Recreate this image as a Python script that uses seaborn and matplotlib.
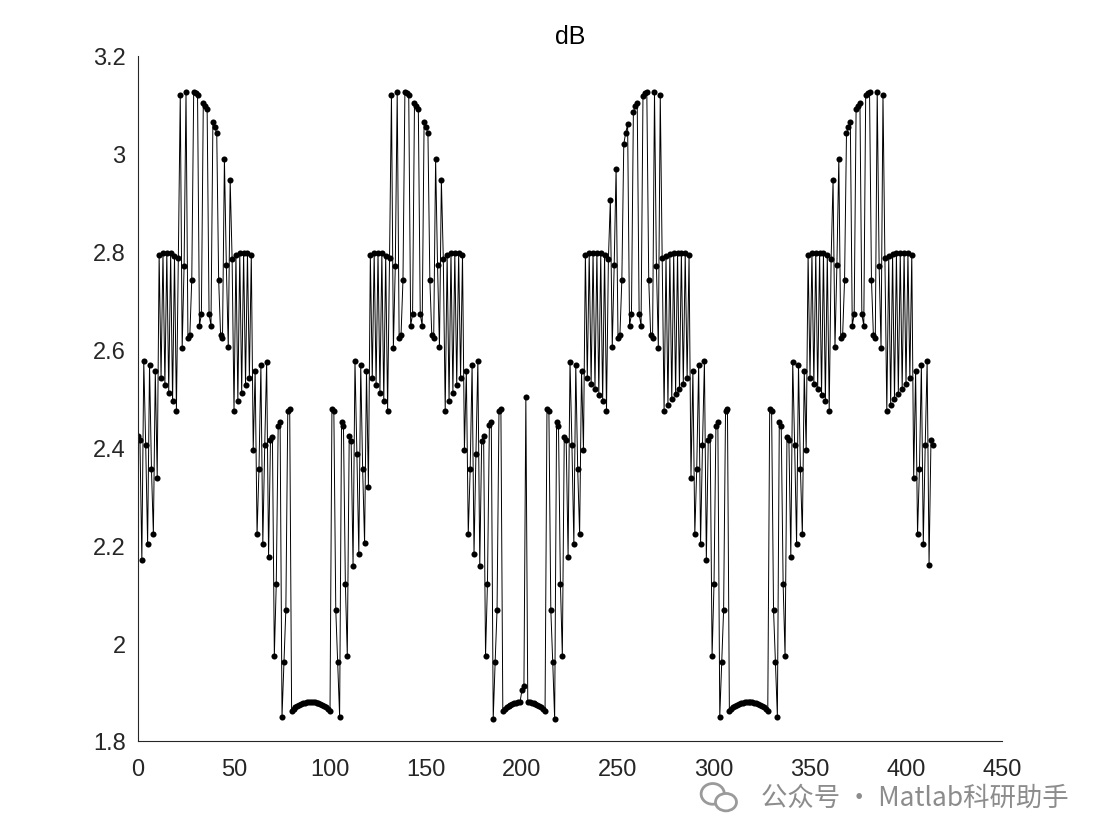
import numpy as np
import pandas as pd
import matplotlib
matplotlib.use("Agg")
import matplotlib.pyplot as plt
from matplotlib.patches import Ellipse
import seaborn as sns

# ---- data (index 0..N) ----
period1 = [2.423, 2.416, 2.170, 2.576, 2.405, 2.203, 2.569, 2.356, 2.223, 2.556,
           2.338, 2.794, 2.541, 2.797, 2.528, 2.798, 2.512, 2.797, 2.494, 2.791,
           2.475, 2.787, 3.121, 2.603, 2.771, 3.127, 2.624, 2.630, 2.743, 3.126,
           3.124, 3.120, 2.649, 2.672, 3.104, 3.098, 3.091, 2.672, 2.649, 3.066,
           3.054, 3.043, 2.743, 2.630, 2.624, 2.990, 2.772, 2.605, 2.946, 2.786,
           2.475, 2.794, 2.494, 2.797, 2.512, 2.798, 2.528, 2.797, 2.541, 2.794,
           2.395, 2.556, 2.222, 2.356, 2.568, 2.202, 2.405, 2.575, 2.177, 2.415,
           2.422, 1.974, 2.121, 2.444, 2.451, 1.850, 1.961, 2.068, 2.474, 2.479,
           1.862, 1.866, 1.869, 1.872, 1.874, 1.876, 1.877, 1.878, 1.879, 1.880,
           1.880, 1.880, 1.879, 1.878, 1.877, 1.876, 1.874, 1.872, 1.869, 1.866,
           1.862, 2.479, 2.474, 2.068, 1.961, 1.850, 2.451, 2.444, 2.121, 1.974]

period2 = [2.423, 2.414, 2.158, 2.576, 2.387, 2.182, 2.568, 2.355, 2.204, 2.557,
           2.319, 2.794, 2.541, 2.797, 2.528, 2.798, 2.512, 2.797, 2.494, 2.791,
           2.475, 2.787, 3.121, 2.603, 2.771, 3.127, 2.624, 2.630, 2.743, 3.126,
           3.124, 3.120, 2.649, 2.672, 3.104, 3.098, 3.091, 2.672, 2.649, 3.066,
           3.054, 3.043, 2.743, 2.630, 2.624, 2.990, 2.772, 2.605, 2.946, 2.786,
           2.475, 2.794, 2.494, 2.797, 2.512, 2.798, 2.528, 2.797, 2.541, 2.794,
           2.395, 2.556, 2.222, 2.355, 2.569, 2.182, 2.387, 2.576, 2.158, 2.414,
           2.423, 1.974, 2.121, 2.445, 2.451, 1.845, 1.961, 2.068, 2.474, 2.479,
           1.862, 1.866, 1.869, 1.872, 1.874, 1.876, 1.877, 1.878, 1.879, 1.880,
           1.905, 1.912, 2.502]

period3 = [1.880, 1.879, 1.878, 1.877, 1.876, 1.874, 1.872, 1.869, 1.866, 1.862,
           2.479, 2.474, 2.068, 1.961, 1.845, 2.451, 2.444, 2.121, 1.974,
           2.422, 2.415, 2.177, 2.575, 2.405, 2.202, 2.568, 2.356, 2.222, 2.556, 2.395,
           2.794, 2.541, 2.797, 2.530, 2.798, 2.520, 2.798, 2.508, 2.797, 2.494,
           2.794, 2.475, 2.786,
           2.905, 2.605, 2.772, 2.970, 2.624, 2.630, 2.743, 3.020, 3.043, 3.060,
           2.649, 2.672, 3.085, 3.098, 3.104, 2.672, 2.649, 3.118, 3.124, 3.126,
           2.743, 2.630, 2.624, 3.127, 2.771, 2.603, 3.121,
           2.787, 2.475, 2.791, 2.487, 2.795, 2.498, 2.797, 2.510, 2.798, 2.520,
           2.798, 2.530, 2.797, 2.541, 2.794,
           2.338, 2.556, 2.223, 2.356, 2.569, 2.203, 2.405, 2.576, 2.170, 2.416, 2.423]

period4 = [1.974, 2.121, 2.444, 2.451, 1.850, 1.961, 2.068, 2.474, 2.479,
           1.862, 1.866, 1.869, 1.872, 1.874, 1.876, 1.877, 1.878, 1.879, 1.880,
           1.880, 1.880, 1.879, 1.878, 1.877, 1.876, 1.874, 1.872, 1.869, 1.866, 1.862,
           2.479, 2.474, 2.068, 1.961, 1.850, 2.451, 2.444, 2.121, 1.974,
           2.422, 2.415, 2.177, 2.575, 2.405, 2.202, 2.568, 2.356, 2.222, 2.556, 2.395,
           2.794, 2.541, 2.797, 2.530, 2.798, 2.520, 2.798, 2.508, 2.797, 2.494,
           2.794, 2.475, 2.786,
           2.946, 2.605, 2.772, 2.990, 2.624, 2.630, 2.743, 3.043, 3.054, 3.066,
           2.649, 2.672, 3.091, 3.098, 3.104, 2.672, 2.649, 3.120, 3.124, 3.126,
           2.743, 2.630, 2.624, 3.127, 2.771, 2.603, 3.121,
           2.787, 2.475, 2.791, 2.487, 2.795, 2.498, 2.797, 2.510, 2.798, 2.520,
           2.798, 2.530, 2.797, 2.541, 2.794,
           2.338, 2.556, 2.223, 2.356, 2.569, 2.203, 2.405, 2.576, 2.160, 2.416, 2.405]

x_ticks = [0, 50, 100, 150, 200, 250, 300, 350, 400, 450]
y_ticks = [1.8, 2.0, 2.2, 2.4, 2.6, 2.8, 3.0, 3.2]
y_tick_labels = ["1.8", "2", "2.2", "2.4", "2.6", "2.8", "3", "3.2"]
title_text = "dB"
watermark_text = "公众号 · Matlab科研助手"

values = period1 + period2 + period3 + period4
df = pd.DataFrame({"idx": np.arange(len(values)), "dB": values})

sns.set_theme(style="white")
plt.rcParams["font.family"] = ["Liberation Sans", "DejaVu Sans"]

fig = plt.figure(figsize=(11.05, 8.28), dpi=100)
ax = fig.add_axes([0.1249, 0.1039, 0.7819, 0.8273])

sns.lineplot(data=df, x="idx", y="dB", ax=ax, color="black", linewidth=0.7,
             marker="o", markersize=4.4, markeredgewidth=0,
             markerfacecolor="black", estimator=None, sort=False)

ax.set_xlim(0, 450)
ax.set_ylim(1.8, 3.2)
ax.set_xticks(x_ticks)
ax.set_xticklabels([str(t) for t in x_ticks])
ax.set_yticks(y_ticks)
ax.set_yticklabels(y_tick_labels)
ax.set_xlabel("")
ax.set_ylabel("")
for s in ["top", "right"]:
    ax.spines[s].set_visible(False)
for s in ["left", "bottom"]:
    ax.spines[s].set_color("#262626")
    ax.spines[s].set_linewidth(0.8)
ax.tick_params(direction="in", length=6, width=0.8, labelsize=17,
               colors="#262626")
ax.tick_params(axis="x", pad=12)
ax.tick_params(axis="y", pad=9)
ax.set_title(title_text, fontsize=18, color="black", pad=9)

# watermark with a simple chat-bubble icon
fig.text(0.967, 0.036, watermark_text, ha="right", va="center", fontsize=19,
         color="#8c8c8c", family=["Noto Sans CJK SC", "DejaVu Sans"])
fig.patches.append(Ellipse((0.645, 0.040), 0.021, 0.025, transform=fig.transFigure,
                           facecolor="none", edgecolor="#9a9a9a", linewidth=2))
fig.patches.append(Ellipse((0.657, 0.030), 0.019, 0.021, transform=fig.transFigure,
                           facecolor="white", edgecolor="#9a9a9a", linewidth=2))

fig.savefig("out.png", dpi=100, facecolor="white")
